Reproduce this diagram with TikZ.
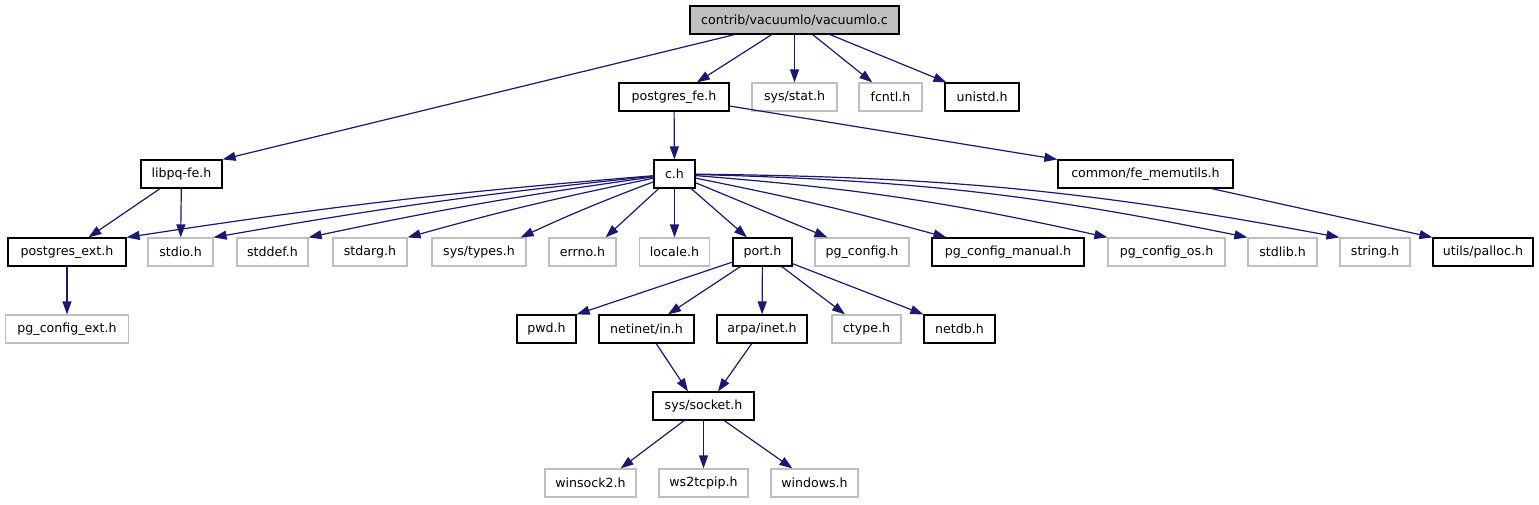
\documentclass[tikz,border=0pt]{standalone}
\usepackage{fontspec}
\setmainfont{DejaVu Sans}
\usetikzlibrary{arrows.meta}
\definecolor{edgeblue}{HTML}{191970}
\definecolor{undocgray}{HTML}{BFBFBF}
\begin{document}
\begin{tikzpicture}[x=1pt,y=-1pt,
  doc/.style={draw=black, line width=1.2pt, fill=white, minimum height=28pt, inner sep=0pt, font=\fontsize{12.6}{14}\selectfont},
  undoc/.style={doc, draw=undocgray},
  topnode/.style={doc, fill=undocgray},
  edge/.style={draw=edgeblue, line width=1.2pt, -{Triangle[length=13pt,width=9pt]}},
]
\useasboundingbox (0,0) rectangle (1539,504);
% row 1
\node[topnode, minimum width=209pt] (top) at (794.5,20) {contrib/vacuumlo/vacuumlo.c};
% row 2
\node[doc, minimum width=110pt] (pfe) at (674,97) {postgres\_fe.h};
\node[undoc, minimum width=85pt] (sysstat) at (794.5,97) {sys/stat.h};
\node[undoc, minimum width=63pt] (fcntl) at (890.5,97) {fcntl.h};
\node[doc, minimum width=74pt] (unistd) at (982,97) {unistd.h};
% row 3
\node[doc, minimum width=81pt] (libpq) at (181.5,174) {libpq-fe.h};
\node[doc, minimum width=41pt] (ch) at (674.5,174) {c.h};
\node[doc, minimum width=175pt] (femem) at (1145.5,174) {common/fe\_memutils.h};
% row 4
\node[doc, minimum width=118pt] (pext) at (67,252) {postgres\_ext.h};
\node[undoc, minimum width=65pt] (stdio) at (180.5,252) {stdio.h};
\node[undoc, minimum width=71pt] (stddef) at (272.5,252) {stddef.h};
\node[undoc, minimum width=74pt] (stdarg) at (370,252) {stdarg.h};
\node[undoc, minimum width=94pt] (systypes) at (479,252) {sys/types.h};
\node[undoc, minimum width=67pt] (errno) at (582.5,252) {errno.h};
\node[undoc, minimum width=70pt] (locale) at (674.5,252) {locale.h};
\node[doc, minimum width=59pt] (port) at (762.5,252) {port.h};
\node[undoc, minimum width=94pt] (pgconfig) at (862,252) {pg\_config.h};
\node[doc, minimum width=152pt] (pgcm) at (1008,252) {pg\_config\_manual.h};
\node[undoc, minimum width=117pt] (pgcos) at (1166.5,252) {pg\_config\_os.h};
\node[undoc, minimum width=69pt] (stdlib) at (1282.5,252) {stdlib.h};
\node[undoc, minimum width=70pt] (string) at (1375,252) {string.h};
\node[doc, minimum width=100pt] (palloc) at (1483,252) {utils/palloc.h};
% row 5
\node[undoc, minimum width=123pt] (pcext) at (67,329) {pg\_config\_ext.h};
\node[doc, minimum width=59pt] (pwd) at (546.5,329) {pwd.h};
\node[doc, minimum width=95pt] (netin) at (646.5,329) {netinet/in.h};
\node[doc, minimum width=90pt] (arpa) at (762,329) {arpa/inet.h};
\node[undoc, minimum width=69pt] (ctype) at (866.5,329) {ctype.h};
\node[doc, minimum width=71pt] (netdb) at (959.5,329) {netdb.h};
% row 6
\node[doc, minimum width=101pt] (socket) at (703.5,406) {sys/socket.h};
% row 7
\node[undoc, minimum width=91pt] (winsock) at (590.5,483) {winsock2.h};
\node[undoc, minimum width=89pt] (ws2) at (703.5,483) {ws2tcpip.h};
\node[undoc, minimum width=87pt] (windows) at (814.5,483) {windows.h};

% edges from top
\draw[edge] (top) -- (libpq.north east);
\draw[edge] (top) -- (pfe);
\draw[edge] (top) -- (sysstat);
\draw[edge] (top) -- (fcntl);
\draw[edge] (top) -- (unistd);
% postgres_fe
\draw[edge] (pfe) -- (femem.north west);
\draw[edge] (pfe) -- (ch);
% libpq
\draw[edge] (libpq) -- (pext);
\draw[edge] (libpq) -- (stdio);
% fe_memutils
\draw[edge] (femem) -- (palloc.north west);
% postgres_ext
\draw[edge] (pext) -- (pcext);
% c.h fan
\draw[edge] (ch) to[bend right=2] (pext.north east);
\draw[edge] (ch) to[bend right=2] (stdio.north east);
\draw[edge] (ch) to[bend right=2] (stddef.north east);
\draw[edge] (ch) to[bend right=2] (stdarg.north east);
\draw[edge] (ch) to[bend right=2] ([xshift=-6pt]systypes.north east);
\draw[edge] (ch) -- ([xshift=-11pt]errno.north east);
\draw[edge] (ch) -- (locale);
\draw[edge] (ch) -- ([xshift=-15.5pt]port.north);
\draw[edge] (ch) -- ([xshift=13pt]pgconfig.north west);
\draw[edge] (ch) to[bend left=2] ([xshift=15pt]pgcm.north west);
\draw[edge] (ch) to[bend left=4] (pgcos.north west);
\draw[edge] (ch) to[bend left=5] (stdlib.north west);
\draw[edge] (ch) to[bend left=5] (string.north west);
% port
\draw[edge] (port) -- (pwd.north east);
\draw[edge] (port) -- ([xshift=21.5pt]netin.north);
\draw[edge] (port) -- (arpa);
\draw[edge] (port) -- ([xshift=-21.5pt]ctype.north);
\draw[edge] (port) -- (netdb.north west);
% socket
\draw[edge] (netin) -- ([xshift=-15.5pt]socket.north);
\draw[edge] (arpa) -- ([xshift=14.5pt]socket.north);
\draw[edge] (socket) -- ([xshift=-16pt]winsock.north east);
\draw[edge] (socket) -- (ws2);
\draw[edge] (socket) -- ([xshift=22pt]windows.north west);
\end{tikzpicture}
\end{document}
